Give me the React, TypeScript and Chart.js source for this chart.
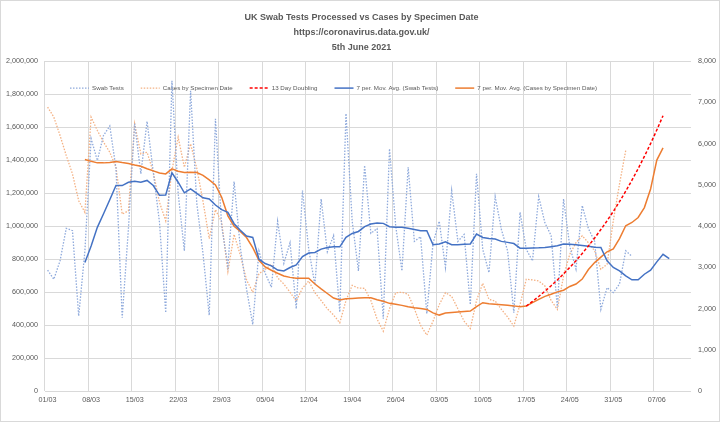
import React, { useEffect, useRef } from "react";
import { Chart, registerables } from "chart.js";

Chart.register(...registerables);

const FONT = "'Liberation Sans', Arial, sans-serif";
const TEXT_COLOR = "#595959";
const GRID_COLOR = "#d9d9d9";

const TITLE_LINES = [
  "UK Swab Tests Processed vs Cases by Specimen Date",
  "https://coronavirus.data.gov.uk/",
  "5th June 2021",
];

// one category per day, 01/03/2021 .. 12/06/2021
const FIRST_DAY = [2021, 2, 1];
const DAY_COUNT = 104;
const TICK_EVERY_DAYS = 7;

// Swab tests processed (left axis), from 01/03
const swabTests = [
  734000, 679000, 790000, 987000, 973000, 456000, 850000,
  1530000, 1398000, 1550000, 1607000, 1350000, 446000, 985000,
  1621000, 1317000, 1635000, 1327000, 1023000, 476000, 1880000,
  1200000, 850000, 1820000, 1138000, 834000, 460000, 1650000,
  1000000, 760000, 1270000, 870000, 620000, 405000, 850000,
  715000, 630000, 1030000, 775000, 900000, 500000, 1216000,
  862000, 645000, 1165000, 845000, 943000, 480000, 1682000,
  1030000, 729000, 1368000, 957000, 985000, 440000, 1469000,
  1000000, 729000, 1357000, 908000, 936000, 470000, 897000,
  1030000, 750000, 1216000, 908000, 950000, 525000, 1317000,
  860000, 719000, 1179000, 980000, 850000, 476000, 1084000,
  860000, 790000, 1179000, 1020000, 943000, 506000, 1165000,
  878000, 740000, 1125000, 985000, 908000, 496000, 628000,
  598000, 650000, 851000, 817000,
];

// Cases by specimen date (right axis), from 01/03
const casesBySpecimenDate = [
  6885, 6641, 6197, 5711, 5266, 4617, 4333,
  6641, 6318, 6034, 5791, 5426, 4292, 4374,
  6480, 5751, 5791, 5305, 4576, 4131, 5346,
  6155, 5426, 5994, 5400, 4600, 3700, 4400,
  4100, 2900, 3800, 3300, 2700, 2400, 2850,
  2950, 3078, 2750, 2600, 2400, 2187, 2500,
  2673, 2389, 2200, 2000, 1850, 1660, 2200,
  2568, 2500, 2495, 2200, 1750, 1458, 2000,
  2389, 2400, 2350, 2000, 1600, 1361, 1700,
  2100, 2389, 2300, 2000, 1700, 1523, 2200,
  2617, 2228, 2187, 1985, 1800, 1580, 2107,
  2714, 2700, 2673, 2552, 2200, 1985, 2795,
  3321, 3600, 3767, 3600, 3402, 2957, 3078,
  4131, 5023, 5832,
];

// 13 day doubling (right axis), from 17/05
const doublingFrom = "17/05";
const doubling13Day = [
  2065, 2179, 2298, 2424, 2557, 2697, 2845, 3001, 3165, 3339, 3522, 3715,
  3918, 4130, 4357, 4595, 4847, 5113, 5393, 5689, 6000, 6329, 6676,
];

// 7 per. moving average (swab tests, left axis), from 07/03
const maSwabFrom = "07/03";
const maSwabTests = [
  780000, 880000, 993000, 1075000, 1160000, 1246000, 1246000, 1266000,
  1272000, 1266000, 1277000, 1246000, 1187000, 1189000, 1323000, 1266000,
  1202000, 1226000, 1199000, 1172000, 1165000, 1128000, 1100000, 1084000,
  1015000, 975000, 940000, 932000, 800000, 774000, 760000, 734000,
  729000, 750000, 766000, 816000, 837000, 841000, 861000, 871000,
  875000, 875000, 932000, 956000, 968000, 997000, 1013000, 1019000,
  1017000, 997000, 993000, 993000, 987000, 980000, 973000, 973000,
  888000, 892000, 906000, 888000, 888000, 890000, 892000, 952000,
  932000, 926000, 922000, 908000, 902000, 895000, 867000, 867000,
  868000, 869000, 871000, 876000, 881000, 892000, 890000, 888000,
  883000, 878000, 873000, 871000, 790000, 750000, 729000, 699000,
  675000, 675000, 709000, 734000, 784000, 830000, 804000,
];

// 7 per. moving average (cases, right axis), from 07/03
const maCasesFrom = "07/03";
const maCases = [
  5613, 5570, 5533, 5533, 5540, 5565, 5540, 5520, 5480, 5450, 5390, 5340,
  5290, 5265, 5387, 5330, 5300, 5305, 5300, 5230, 5120, 5000, 4700, 4250,
  4000, 3870, 3726, 3482, 3176, 3013, 2933, 2860, 2795, 2760, 2739, 2739,
  2739, 2600, 2480, 2370, 2260, 2211, 2243, 2250, 2260, 2267, 2267, 2220,
  2180, 2131, 2110, 2082, 2050, 2024, 2005, 1985, 1900, 1847, 1895, 1910,
  1920, 1932, 1944, 2050, 2146, 2120, 2107, 2095, 2085, 2070, 2050, 2065,
  2150, 2228, 2300, 2350, 2410, 2450, 2540, 2600, 2720, 2950, 3118, 3250,
  3380, 3450, 3700, 4010, 4090, 4211, 4450, 4900, 5600, 5898,
];

const dayLabels: string[] = Array.from({ length: DAY_COUNT }, (_, i) => {
  const d = new Date(Date.UTC(FIRST_DAY[0], FIRST_DAY[1], FIRST_DAY[2] + i));
  const dd = String(d.getUTCDate()).padStart(2, "0");
  const mm = String(d.getUTCMonth() + 1).padStart(2, "0");
  return `${dd}/${mm}`;
});

function placeFrom(fromLabel: string, values: number[]) {
  const start = dayLabels.indexOf(fromLabel);
  return dayLabels.map((_, i) =>
    i >= start && i - start < values.length ? values[i - start] : null
  );
}

const fmt = (v: number) => Number(v).toLocaleString("en-US");

// puts the legend row inside the top of the plot area, as in the original
const legendPlacer = {
  id: "legendPlacer",
  afterLayout(chart: any) {
    const lg = chart.legend;
    if (!lg) return;
    lg.left = 52;
    lg.right = chart.width;
    lg.top = 67;
    lg.bottom = 67 + 24;
  },
};

export default function App() {
  const ref = useRef<HTMLCanvasElement | null>(null);

  useEffect(() => {
    if (!ref.current) return;
    const dotted = { borderDash: [1.5, 1.5], borderWidth: 1.3 };
    const chart = new Chart(ref.current, {
      type: "line",
      data: {
        labels: dayLabels,
        datasets: [
          {
            label: "Swab Tests",
            data: placeFrom("01/03", swabTests),
            yAxisID: "y",
            borderColor: "#8FAADC",
            ...dotted,
            pointRadius: 0,
            order: 3,
          },
          {
            label: "Cases by Specimen Date",
            data: placeFrom("01/03", casesBySpecimenDate),
            yAxisID: "y1",
            borderColor: "#F4B183",
            ...dotted,
            pointRadius: 0,
            order: 3,
          },
          {
            label: "13 Day Doubling",
            data: placeFrom(doublingFrom, doubling13Day),
            yAxisID: "y1",
            borderColor: "#FF0000",
            borderDash: [3, 2],
            borderWidth: 1.5,
            pointRadius: 0,
            order: 1,
          },
          {
            label: "7 per. Mov. Avg. (Swab Tests)",
            data: placeFrom(maSwabFrom, maSwabTests),
            yAxisID: "y",
            borderColor: "#4472C4",
            borderWidth: 1.5,
            pointRadius: 0,
            order: 2,
          },
          {
            label: "7 per. Mov. Avg. (Cases by Specimen Date)",
            data: placeFrom(maCasesFrom, maCases),
            yAxisID: "y1",
            borderColor: "#ED7D31",
            borderWidth: 1.5,
            pointRadius: 0,
            order: 2,
          },
        ],
      },
      options: {
        responsive: true,
        maintainAspectRatio: false,
        animation: false,
        events: [],
        layout: { padding: { left: 5, right: 2, top: 0, bottom: 13 } },
        plugins: {
          title: {
            display: true,
            text: TITLE_LINES,
            color: TEXT_COLOR,
            font: { family: FONT, size: 9, weight: "bold", lineHeight: "15px" },
            padding: { top: 9.5, bottom: 4.5 },
          },
          legend: {
            display: true,
            position: "top",
            align: "start",
            maxHeight: 1,
            labels: {
              usePointStyle: true,
              pointStyle: "line",
              pointStyleWidth: 19,
              padding: 17,
              color: TEXT_COLOR,
              font: { family: FONT, size: 6.2 },
              sort: (a: any, b: any) => a.datasetIndex - b.datasetIndex,
              generateLabels: (chart: any) => {
                const base = (Chart.defaults.plugins.legend.labels as any).generateLabels(chart);
                return base.map((it: any) => {
                  const ds = chart.data.datasets[it.datasetIndex];
                  return {
                    ...it,
                    lineDash: ds.borderDash || [],
                    lineWidth: ds.borderWidth,
                    strokeStyle: ds.borderColor,
                  };
                });
              },
            },
          },
          tooltip: { enabled: false },
        },
        scales: {
          x: {
            type: "category",
            offset: true,
            grid: {
              offset: true,
              drawTicks: false,
              lineWidth: 1,
              color: (ctx: any) =>
                ctx.index % TICK_EVERY_DAYS === 0 ? GRID_COLOR : "rgba(0,0,0,0)",
            },
            border: { display: false },
            ticks: {
              autoSkip: false,
              maxRotation: 0,
              minRotation: 0,
              padding: 4,
              color: TEXT_COLOR,
              font: { family: FONT, size: 7.2 },
              callback: (_v: any, i: number) =>
                i % TICK_EVERY_DAYS === 0 ? dayLabels[i] : "",
            },
          },
          y: {
            position: "left",
            min: 0,
            max: 2000000,
            afterFit: (s: any) => {
              s.width = 38.5;
            },
            grid: { color: GRID_COLOR, drawTicks: false },
            border: { display: false },
            ticks: {
              stepSize: 200000,
              padding: 6.5,
              color: TEXT_COLOR,
              font: { family: FONT, size: 7.2 },
              callback: (v: any) => fmt(v),
            },
          },
          y1: {
            position: "right",
            min: 0,
            max: 8000,
            afterFit: (s: any) => {
              s.width = 26;
            },
            grid: { display: false, drawTicks: false },
            border: { display: false },
            ticks: {
              stepSize: 1000,
              padding: 7,
              color: TEXT_COLOR,
              font: { family: FONT, size: 7.2 },
              callback: (v: any) => fmt(v),
            },
          },
        },
      },
      plugins: [legendPlacer],
    } as any);
    return () => chart.destroy();
  }, []);

  return (
    <div
      style={{
        position: "fixed",
        left: 0,
        top: 0,
        width: 720,
        height: 422,
        boxSizing: "border-box",
        border: "1px solid #d9d9d9",
        background: "#fff",
      }}
    >
      <canvas ref={ref} />
    </div>
  );
}
